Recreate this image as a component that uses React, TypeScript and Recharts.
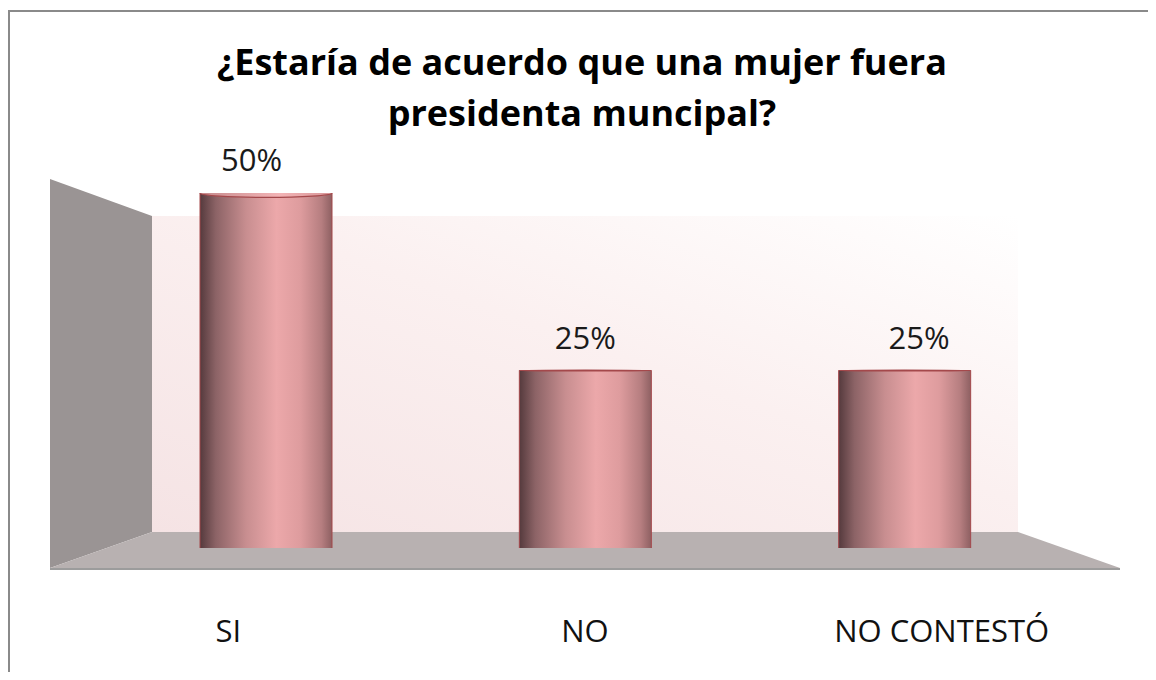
import React, { useLayoutEffect } from 'react';
import { BarChart, Bar, XAxis, YAxis, ReferenceArea, LabelList, Customized } from 'recharts';

const categories = ['SI', 'NO', 'NO CONTESTÓ'];
const values = [50, 25, 25];
const valueLabels = ['50%', '25%', '25%'];
const titleLines = ['¿Estaría de acuerdo que una mujer fuera', 'presidenta muncipal?'];

const data = categories.map((name, i) => ({ name, value: values[i], label: valueLabels[i] }));

const CHART_W = 1146;
const CHART_H = 660;
const MARGIN = { top: 181, right: 36, bottom: 64, left: 40 };
const PLOT_CENTER_X = MARGIN.left + (CHART_W - MARGIN.left - MARGIN.right) / 2;
const EYE_Y = 360;
const FONT = '"Open Sans", "Liberation Sans", sans-serif';

const Walls = (props: any) => {
  const { x, y, width: w, height: h } = props;
  const b = y + h;
  const leftWall = `${x},${y - 14} ${x + 102},${y + 23} ${x + 102},${b - 16} ${x},${b + 20}`;
  const floor = `${x + 102},${b - 16} ${x + 968},${b - 16} ${x + w},${b + 20} ${x},${b + 20}`;
  return (
    <g>
      <defs>
        <linearGradient id="backWall" x1="0" y1="1" x2="1" y2="0">
          <stop offset="0" stopColor="#f5e3e4" />
          <stop offset="0.55" stopColor="#fbf0f0" />
          <stop offset="1" stopColor="#ffffff" />
        </linearGradient>
      </defs>
      <rect x={x + 102} y={y + 23} width={866} height={h - 39} fill="url(#backWall)" />
      <polygon points={leftWall} fill="#9a9494" />
      <polygon points={floor} fill="#b8b1b1" />
      <rect x={x} y={b + 20} width={w} height={2} fill="#9c9c9c" />
    </g>
  );
};

const Cylinder = (props: any) => {
  const { x, y, width: w, height: h } = props;
  if (!h || h <= 0) return null;
  const rx = w / 2;
  const bottom = y + h;
  const ryT = Math.max(0.5, (EYE_Y - y) * 0.025);
  const ryB = Math.max(0.5, (bottom - EYE_Y) * 0.035);
  const body = `M ${x} ${y} L ${x} ${bottom} A ${rx} ${ryB} 0 0 0 ${x + w} ${bottom} L ${x + w} ${y} Z`;
  return (
    <g>
      <defs>
        <linearGradient id="cylBody" x1="0" y1="0" x2="1" y2="0">
          <stop offset="0" stopColor="#553a3d" />
          <stop offset="0.12" stopColor="#8c6366" />
          <stop offset="0.35" stopColor="#c88e90" />
          <stop offset="0.58" stopColor="#eca8aa" />
          <stop offset="0.76" stopColor="#de9c9e" />
          <stop offset="0.92" stopColor="#b67e80" />
          <stop offset="1" stopColor="#8e6062" />
        </linearGradient>
        <linearGradient id="cylTop" x1="0" y1="0" x2="1" y2="0">
          <stop offset="0" stopColor="#c58a8c" />
          <stop offset="0.6" stopColor="#f3b4b6" />
          <stop offset="1" stopColor="#d79597" />
        </linearGradient>
      </defs>
      <path d={body} fill="url(#cylBody)" stroke="#a4484b" strokeWidth={1} />
      <ellipse cx={x + rx} cy={y} rx={rx} ry={ryT} fill="url(#cylTop)" stroke="#a4484b" strokeWidth={1.2} />
    </g>
  );
};

const ValueLabel = (props: any) => {
  const { x, y, width: w, value } = props;
  const cx = x + w / 2;
  const px = cx + (cx - PLOT_CENTER_X) * 0.045;
  return (
    <text x={px} y={y - 22} textAnchor="middle" fontFamily={FONT} fontSize={31} fill="#1a1a1a">
      {value}
    </text>
  );
};

const CategoryTick = (props: any) => {
  const { x, y, payload } = props;
  return (
    <text x={x} y={y + 64} textAnchor="middle" fontFamily={FONT} fontSize={31} fill="#111111">
      {payload.value}
    </text>
  );
};

const Title = () => (
  <g>
    {titleLines.map((line, i) => (
      <text
        key={i}
        x={572}
        y={63 + i * 51}
        textAnchor="middle"
        fontFamily={FONT}
        fontWeight="bold"
        fontSize={36}
        fill="#000000"
      >
        {line}
      </text>
    ))}
  </g>
);

export default function App() {
  useLayoutEffect(() => {
    document.documentElement.style.overflow = 'hidden';
    document.body.style.overflow = 'hidden';
  }, []);
  return (
    <div style={{ width: 1148, height: 664, overflow: 'hidden' }}>
      <div style={{ paddingTop: 2 }}>
        <div
          style={{
            width: CHART_W,
            height: CHART_H,
            borderTop: '2px solid #8a8a8a',
            borderLeft: '2px solid #8a8a8a',
            background: '#ffffff',
          }}
        >
          <BarChart width={CHART_W} height={CHART_H} data={data} margin={MARGIN}>
            <XAxis
              xAxisId="labels"
              dataKey="name"
              height={60}
              axisLine={false}
              tickLine={false}
              tickSize={0}
              tickMargin={0}
              interval={0}
              tick={<CategoryTick />}
            />
            <XAxis xAxisId="bars" dataKey="name" hide padding={{ left: 56, right: 56 }} />
            <YAxis hide domain={[0, 50]} allowDataOverflow tickCount={3} />
            <ReferenceArea xAxisId="labels" y1={0} y2={50} ifOverflow="visible" shape={<Walls />} />
            <Bar xAxisId="bars" dataKey="value" barSize={132} shape={<Cylinder />} isAnimationActive={false}>
              <LabelList dataKey="label" content={<ValueLabel />} />
            </Bar>
            <Customized component={<Title />} />
          </BarChart>
        </div>
      </div>
    </div>
  );
}
